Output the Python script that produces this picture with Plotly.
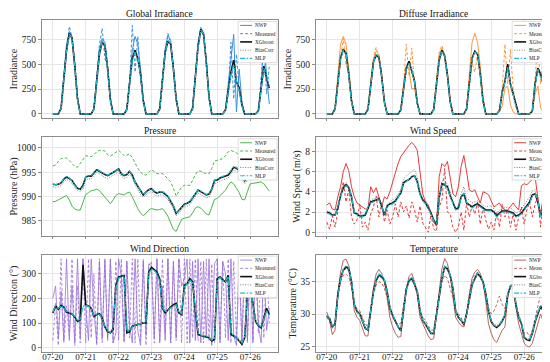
import plotly.graph_objects as go
import pandas as pd

# ---------------- time axis (2-hourly, 07-20 00:00 .. 07-26 14:00) ----------------
times = pd.date_range("2023-07-20 00:00", periods=80, freq="2h")
day_ticks = pd.date_range("2023-07-20", periods=7, freq="D")
tick_labels = ["07-20", "07-21", "07-22", "07-23", "07-24", "07-25", "07-26"]
series_names = ["NWP", "Measured", "XGboost", "BiasCorr", "MLP"]

# ---------------- Global irradiance ----------------
ghi_nwp = [0,0,0,60,380,700,830,780,520,170,0,0,
           0,0,0,55,360,660,760,720,480,160,0,0,
           0,0,0,50,340,640,780,700,460,150,0,0,
           0,0,0,55,360,660,790,740,480,160,0,0,
           0,0,0,60,380,720,860,820,540,180,0,0,
           0,0,0,50,300,520,800,20,450,120,0,0,
           0,0,0,40,260,800,380,100]
ghi_meas = [0,0,0,50,360,620,880,770,490,150,0,0,
            0,0,0,50,340,700,860,560,470,150,0,0,
            0,0,0,40,300,890,420,780,350,130,0,0,
            0,0,0,50,340,640,810,700,460,150,0,0,
            0,0,0,55,370,700,870,800,520,170,0,0,
            0,0,0,40,200,720,150,600,250,100,0,0,
            0,0,0,30,350,700,200,480]
ghi_xgb = [0,0,0,55,350,640,810,760,480,150,0,0,
           0,0,0,50,330,600,720,690,450,140,0,0,
           0,0,0,45,300,560,640,560,400,130,0,0,
           0,0,0,50,340,620,730,700,450,145,0,0,
           0,0,0,55,360,680,850,800,520,165,0,0,
           0,0,0,40,230,420,540,320,260,90,0,0,
           0,0,0,30,260,480,360,260]
ghi_bc = [0,0,0,55,345,630,800,750,470,150,0,0,
          0,0,0,50,325,590,710,680,445,140,0,0,
          0,0,0,45,295,540,600,540,390,125,0,0,
          0,0,0,50,335,610,720,690,445,140,0,0,
          0,0,0,55,355,670,840,790,515,160,0,0,
          0,0,0,40,220,380,480,300,240,85,0,0,
          0,0,0,30,240,440,330,240]
ghi_mlp = [0,0,0,50,340,630,800,770,470,140,0,0,
           0,0,0,45,320,600,740,700,440,135,0,0,
           0,0,0,40,290,550,620,580,390,120,0,0,
           0,0,0,45,330,620,740,710,445,140,0,0,
           0,0,0,50,350,680,840,810,510,160,0,0,
           0,0,0,35,210,400,500,330,240,80,0,0,
           0,0,0,25,250,460,380,270]

# ---------------- Diffuse irradiance ----------------
dhi_nwp = [0,0,0,60,400,700,780,700,450,150,0,0,
           0,0,0,50,330,550,630,600,400,130,0,0,
           0,0,0,45,300,480,440,250,260,100,0,0,
           0,0,0,50,360,600,660,600,420,140,0,0,
           0,0,0,60,420,720,810,720,480,160,0,0,
           0,0,0,20,80,260,280,90,20,0,0,0,
           0,0,0,30,200,280,60,20]
dhi_meas = [0,0,0,50,340,560,760,490,420,140,0,0,
            0,0,0,45,320,570,670,560,380,120,0,0,
            0,0,0,40,300,700,380,660,300,110,0,0,
            0,0,0,45,330,620,690,580,400,130,0,0,
            0,0,0,50,340,520,420,600,380,130,0,0,
            0,0,0,40,260,700,300,650,250,80,0,0,
            0,0,0,30,400,700,300,600]
dhi_xgb = [0,0,0,50,320,560,650,610,400,130,0,0,
           0,0,0,45,310,520,590,570,380,120,0,0,
           0,0,0,40,280,460,530,440,330,110,0,0,
           0,0,0,45,320,540,640,580,390,125,0,0,
           0,0,0,50,330,560,630,600,400,130,0,0,
           0,0,0,35,220,330,500,300,200,80,0,0,
           0,0,0,30,300,460,400,300]
dhi_bc = [0,0,0,50,315,550,640,600,395,125,0,0,
          0,0,0,45,305,515,580,560,375,120,0,0,
          0,0,0,40,275,450,500,420,320,105,0,0,
          0,0,0,45,315,535,630,570,385,120,0,0,
          0,0,0,50,325,555,620,590,395,125,0,0,
          0,0,0,35,210,310,460,280,190,75,0,0,
          0,0,0,30,280,430,370,280]
dhi_mlp = [0,0,0,45,310,560,640,620,390,120,0,0,
           0,0,0,40,300,520,600,580,370,115,0,0,
           0,0,0,35,270,460,510,450,320,100,0,0,
           0,0,0,40,310,540,630,590,380,120,0,0,
           0,0,0,45,320,560,620,610,390,125,0,0,
           0,0,0,30,210,320,470,310,190,70,0,0,
           0,0,0,25,290,450,390,290]

# ---------------- Pressure ----------------
p_nwp = [988.9,989.0,989.3,989.6,989.9,990.2,989.3,988.0,987.4,987.2,987.2,988.8,
         990.4,990.8,991.2,991.3,991.5,991.2,990.5,989.9,989.0,988.5,989.3,990.2,
         990.6,990.4,990.3,990.7,990.9,989.9,988.6,987.5,986.6,986.0,986.5,987.2,
         987.5,987.4,987.2,987.3,987.5,986.8,985.9,984.5,983.2,982.8,984.2,985.3,
         985.5,985.6,985.8,986.6,987.6,987.9,987.6,987.0,986.4,986.2,988.0,989.4,
         989.6,990.1,990.6,991.3,992.3,993.0,992.6,991.8,990.8,989.4,989.3,991.0,
         992.6,992.7,992.8,992.9,993.0,992.6,991.8,991.1]
p_meas = [996.3,996.5,997.2,997.8,997.9,997.9,997.4,996.8,996.2,996.0,996.8,997.6,
          998.4,998.3,998.2,998.6,999.2,999.5,999.5,999.4,998.6,998.3,998.7,999.1,
          999.5,999.0,998.4,998.5,998.8,998.0,996.8,995.8,995.0,994.5,994.4,995.0,
          995.5,995.1,994.7,994.7,994.7,994.2,993.6,993.0,991.6,990.1,991.0,992.0,
          992.3,992.3,992.3,993.3,994.5,995.3,995.2,994.9,994.7,994.7,995.8,997.3,
          997.5,997.7,997.8,998.4,999.2,999.5,999.3,999.0,998.5,997.2,997.0,997.5,
          998.0,998.3,998.5,998.2,997.8,997.5,997.2,997.0]
p_xgb = [992.5,992.4,992.5,992.8,993.6,994.0,993.7,993.3,992.4,991.7,991.5,992.3,
         994.0,994.2,994.2,994.9,995.5,995.2,994.8,994.5,994.3,994.6,995.0,995.3,
         995.7,994.7,994.3,994.5,995.2,994.4,993.0,992.0,991.0,990.3,990.9,991.4,
         991.6,991.0,990.7,990.9,990.9,990.5,990.0,989.0,988.0,986.5,987.1,987.9,
         988.4,988.6,988.9,989.7,990.6,991.3,991.0,990.6,990.3,990.5,991.5,993.3,
         993.4,993.8,994.0,994.1,994.4,995.2,996.0,995.8,995.4,994.3,993.2,993.8,
         994.5,995.0,995.4,995.8,996.0,995.8,995.5,995.3]
p_bc = [992.0,991.9,992.0,992.2,993.0,993.5,993.2,992.7,991.8,991.2,991.0,991.5,
        993.4,993.6,993.6,994.3,994.9,994.7,994.2,993.9,993.7,994.0,994.4,994.7,
        995.1,994.2,993.7,993.9,994.6,993.8,992.4,991.4,990.4,989.8,990.3,990.8,
        991.0,990.4,990.1,990.3,990.3,989.9,989.4,988.4,987.4,986.0,986.5,987.3,
        987.8,988.0,988.3,989.1,990.0,990.7,990.4,990.0,989.7,989.9,990.9,992.7,
        992.8,993.2,993.4,993.5,993.8,994.6,995.4,995.2,994.8,993.7,992.6,993.2,
        993.9,994.4,994.8,995.2,995.4,995.2,994.9,994.7]
p_mlp = [992.6,992.4,992.5,992.8,993.7,994.1,993.8,993.2,992.3,991.6,991.4,992.0,
         994.1,994.2,994.3,995.0,995.6,995.3,994.9,994.5,994.4,994.7,995.0,995.3,
         995.6,994.8,994.4,994.6,995.2,994.5,993.0,992.1,991.1,990.4,990.8,991.3,
         991.5,991.1,990.8,990.9,991.0,990.6,990.1,989.1,988.1,986.6,987.0,987.8,
         988.3,988.6,989.0,989.8,990.7,991.4,991.1,990.7,990.4,990.6,991.6,993.4,
         993.5,993.9,994.1,994.3,994.6,995.4,996.2,996.0,995.5,994.4,993.3,993.9,
         994.6,995.1,995.5,995.9,996.1,995.9,995.6,995.4]

# ---------------- Wind speed ----------------
ws_nwp = [2.7,2.9,2.3,2.2,3.5,4.5,6.0,6.8,6.1,4.5,3.5,2.9,
          2.7,2.5,2.3,2.3,4.5,3.9,4.4,3.5,2.5,3.5,3.3,4.0,
          5.0,6.0,6.8,7.5,7.9,8.3,8.6,8.9,8.6,8.1,5.9,3.8,
          3.0,2.7,2.0,1.0,0.6,5.5,6.8,6.5,7.0,5.5,3.8,3.5,
          4.5,6.5,7.6,6.0,4.2,4.0,4.2,3.5,2.9,4.0,3.9,3.7,
          3.0,2.5,2.7,2.9,2.4,2.2,2.2,2.5,2.9,2.5,2.2,4.6,
          4.8,4.7,5.0,5.3,5.5,3.4,1.8,3.5]
ws_meas = [1.0,0.3,1.6,0.5,2.0,3.5,5.0,3.0,4.2,1.5,0.8,1.2,
           2.8,0.5,1.0,0.2,1.8,2.5,3.6,1.5,2.8,1.0,2.2,0.8,
           1.5,2.8,1.5,3.0,2.0,2.6,1.4,3.0,2.2,1.0,2.6,0.9,
           0.4,0.0,1.8,0.3,0.1,2.5,3.2,6.3,2.0,1.8,0.5,0.0,
           0.5,2.0,0.2,2.9,1.5,2.6,1.8,3.0,0.8,2.5,1.2,0.3,
           1.0,0.2,2.0,0.5,2.8,1.5,2.2,0.5,1.8,0.2,1.5,2.5,
           0.8,2.2,3.0,1.5,2.8,3.5,0.5,3.7]
ws_xgb = [2.0,1.9,1.7,1.7,2.4,3.6,4.4,4.7,4.4,3.5,1.9,1.8,
          1.6,1.6,1.7,2.4,3.0,3.1,3.2,3.3,2.6,1.7,2.6,2.8,
          2.9,3.1,3.5,3.9,4.9,5.1,5.2,5.5,5.6,5.0,3.8,3.2,
          2.9,2.4,1.9,1.2,0.8,3.4,4.8,4.7,4.5,3.6,2.9,2.3,
          2.4,3.5,3.8,2.9,2.7,2.5,2.7,2.8,2.6,2.4,2.2,2.2,
          2.2,2.0,1.6,1.9,2.1,2.1,2.1,2.0,1.9,1.6,1.7,1.9,
          2.3,2.6,3.0,3.7,3.8,3.0,1.6,2.5]
ws_bc = [2.1,2.0,1.8,1.8,2.6,3.8,4.6,4.9,4.6,3.7,2.0,1.9,
         1.7,1.7,1.8,2.6,3.2,3.3,3.4,3.5,2.8,1.8,2.8,3.0,
         3.2,3.4,3.8,4.3,5.3,5.6,5.8,6.0,6.2,5.5,4.1,3.4,
         3.1,2.6,2.0,1.3,0.9,3.6,5.1,5.0,4.8,3.9,3.1,2.5,
         2.6,3.8,4.5,3.4,3.1,2.9,3.0,3.1,2.9,2.7,2.5,2.6,
         2.6,2.3,1.9,2.2,2.4,2.4,2.5,2.4,2.2,1.9,2.0,2.3,
         2.7,3.0,3.5,4.1,4.2,3.3,1.8,2.7]
ws_mlp = [1.9,1.8,1.6,1.7,2.3,3.5,4.3,4.6,4.5,3.6,2.0,1.7,
          1.5,1.5,1.8,2.5,2.9,3.0,3.3,3.2,2.5,1.8,2.5,2.7,
          2.8,3.0,3.4,4.0,4.8,5.0,5.3,5.5,5.6,4.9,3.7,3.1,
          2.8,2.3,1.8,1.1,0.9,3.3,4.7,4.8,4.4,3.5,2.8,2.2,
          2.3,3.4,3.9,3.0,2.6,2.4,2.6,2.7,2.5,2.3,2.1,2.1,
          2.1,1.9,1.5,1.8,2.0,2.0,2.0,1.9,1.8,1.5,1.6,1.8,
          2.2,2.5,2.9,3.6,3.8,3.1,1.5,2.4]

# ---------------- Wind direction ----------------
wd_nwp = [200,250,40,230,30,360,30,250,20,360,40,360,
          170,30,360,150,20,350,40,360,30,360,20,60,
          360,290,30,350,90,20,360,70,10,350,50,340,
          330,40,360,20,250,30,360,20,350,40,360,250,
          280,360,20,350,30,360,20,350,40,360,10,340,
          360,20,350,300,30,360,50,10,360,20,360,30,
          350,20,360,90,20,340,70,160]
wd_meas = [30,180,10,360,20,170,50,360,10,250,20,360,
           20,360,40,300,10,360,20,350,40,360,20,350,
           30,360,20,350,40,360,20,360,30,360,10,330,
           350,20,360,30,360,60,360,20,350,30,360,20,
           360,20,360,40,360,30,350,20,360,30,340,20,
           360,30,350,40,360,20,350,30,360,10,350,20,
           360,30,350,60,360,40,340,100]
wd_xgb = [141,170,156,172,165,145,140,137,125,107,114,336,
          174,170,160,127,135,138,121,85,65,61,75,253,
          287,290,293,61,65,88,92,94,99,101,101,307,
          326,315,307,280,160,141,155,165,175,180,141,134,
          253,260,280,267,147,54,50,48,44,41,28,35,
          280,287,275,267,293,54,48,41,28,15,41,214,
          253,180,107,90,81,121,160,134]
wd_bc = [148,168,158,168,160,150,144,140,130,112,118,165,
         170,166,156,132,138,135,120,90,70,65,84,240,
         278,285,288,75,72,88,92,96,100,102,106,295,
         318,310,298,268,168,148,152,160,168,172,148,140,
         240,255,272,260,152,62,55,52,48,45,36,40,
         270,280,270,268,285,64,54,47,35,24,48,200,
         240,178,112,95,88,120,148,132]
wd_mlp = [145,172,160,170,163,148,142,138,128,110,116,168,
          172,168,158,130,136,136,118,88,68,62,80,245,
          282,288,290,70,68,85,90,95,98,100,104,300,
          320,312,300,270,165,145,150,162,170,175,145,138,
          245,258,275,262,150,58,52,50,46,42,32,38,
          275,285,272,270,288,60,50,44,32,20,45,205,
          245,175,110,92,85,118,150,130]

# ---------------- Temperature ----------------
t_nwp = [30.3,29.0,26.8,27.5,33.0,36.5,38.3,38.5,37.5,35.0,30.5,29.5,
         29.0,27.8,26.6,26.6,30.0,34.0,36.2,36.9,36.3,35.0,32.5,29.5,
         28.0,27.0,26.4,26.5,30.5,34.0,35.8,36.3,35.0,33.0,29.5,28.5,
         27.5,26.6,26.0,26.2,30.0,34.0,37.0,38.6,37.8,36.0,33.0,29.5,
         28.8,28.2,28.0,29.8,33.0,35.5,36.5,36.9,36.3,35.0,32.0,28.5,
         27.0,26.0,25.6,26.5,27.5,28.0,32.5,34.5,34.2,31.0,28.5,27.0,
         25.5,25.0,24.9,25.5,27.0,28.5,30.0,28.8]
t_meas = [29.5,28.8,27.8,28.5,32.5,35.0,36.0,36.2,35.8,34.0,31.5,30.8,
          30.5,29.5,28.5,28.0,30.5,33.0,34.5,35.0,34.8,34.0,32.5,30.5,
          29.5,28.8,28.5,28.5,31.5,34.0,35.0,35.5,34.5,33.0,30.0,29.5,
          29.0,28.2,27.5,27.5,30.5,33.0,35.0,36.0,35.5,34.0,32.5,30.5,
          30.0,29.5,28.0,30.5,33.0,35.5,36.0,36.5,35.5,35.0,33.5,31.0,
          30.0,30.5,31.5,32.8,31.5,30.8,33.0,34.0,34.0,31.5,30.0,28.5,
          27.0,27.2,26.5,27.5,29.5,31.5,33.0,32.0]
t_xgb = [29.7,29.3,28.0,28.5,33.0,35.5,36.8,37.3,37.0,35.0,31.5,30.4,
         30.0,28.8,27.8,27.5,30.5,33.5,35.2,36.0,35.8,35.2,33.5,31.0,
         29.8,28.8,28.0,27.4,31.0,33.8,35.2,35.5,34.6,33.5,30.5,29.0,
         28.4,27.8,27.0,27.0,29.8,33.0,35.5,37.3,37.0,36.0,34.0,30.5,
         29.5,29.0,28.4,30.0,32.5,34.5,35.5,36.3,35.8,35.0,33.0,30.4,
         28.8,28.2,27.9,28.3,28.9,29.8,33.0,34.3,34.5,31.4,29.5,28.5,
         26.4,26.0,25.9,27.0,28.8,30.2,31.2,30.5]
t_bc = [29.5,29.1,27.9,28.6,32.8,35.3,36.6,37.0,36.7,34.8,31.3,30.2,
        29.8,28.7,27.7,27.5,30.4,33.3,35.0,35.8,35.6,35.0,33.3,30.8,
        29.6,28.7,27.9,27.4,30.8,33.6,35.0,35.3,34.4,33.3,30.3,28.9,
        28.3,27.7,27.0,27.0,29.6,32.8,35.3,37.0,36.8,35.8,33.8,30.4,
        29.4,28.9,28.4,29.9,32.3,34.3,35.3,36.1,35.6,34.8,32.8,30.3,
        28.9,28.4,28.2,28.6,29.2,29.9,32.8,34.1,34.3,31.3,29.5,28.6,
        26.6,26.2,26.1,27.1,28.8,30.1,31.0,30.4]
t_mlp = [29.8,29.4,28.2,28.4,32.6,35.4,36.9,37.5,37.2,35.2,31.6,30.3,
         29.9,28.9,27.9,27.6,30.3,33.4,35.3,36.2,36.0,35.3,33.5,31.1,
         29.9,28.9,28.1,27.5,30.8,33.7,35.3,35.7,34.8,33.6,30.6,29.1,
         28.5,27.9,27.1,27.1,29.6,32.9,35.6,37.4,37.2,36.1,34.1,30.6,
         29.6,29.1,28.5,30.0,32.4,34.5,35.6,36.4,36.0,35.1,33.1,30.5,
         28.9,28.3,28.0,28.4,29.0,29.9,33.1,34.4,34.6,31.6,29.6,28.6,
         26.5,26.1,26.0,27.1,28.9,30.3,31.3,30.6]

# ---------------- panel definitions ----------------
panels = [
    dict(title="Global Irradiance", ytitle="Irradiance", color="#3a8fde", lw=1.0,
         data=[ghi_nwp, ghi_meas, ghi_xgb, ghi_bc, ghi_mlp],
         yrange=[-45, 945], ytick=[0, 250, 500, 750]),
    dict(title="Diffuse Irradiance", ytitle="Irradiance", color="#fb9a3e", lw=1.0,
         data=[dhi_nwp, dhi_meas, dhi_xgb, dhi_bc, dhi_mlp],
         yrange=[-45, 945], ytick=[0, 250, 500, 750]),
    dict(title="Pressure", ytitle="Pressure (hPa)", color="#45b845", lw=1.0,
         data=[p_nwp, p_meas, p_xgb, p_bc, p_mlp],
         yrange=[981.9, 1002.2], ytick=[985, 990, 995, 1000]),
    dict(title="Wind Speed", ytitle="Wind Speed (m/s)", color="#e43a3a", lw=1.0,
         data=[ws_nwp, ws_meas, ws_xgb, ws_bc, ws_mlp],
         yrange=[-0.35, 9.4], ytick=[0, 2, 4, 6, 8]),
    dict(title="Wind Direction", ytitle="Wind Direction (°)", color="#9a6fd6", lw=0.8,
         data=[wd_nwp, wd_meas, wd_xgb, wd_bc, wd_mlp],
         yrange=[-17, 377], ytick=[0, 100, 200, 300]),
    dict(title="Temperature", ytitle="Temperature (°C)", color="#b5665a", lw=1.0,
         data=[t_nwp, t_meas, t_xgb, t_bc, t_mlp],
         yrange=[24.1, 39.2], ytick=[25, 30, 35]),
]

W, H = 550, 362
col_px = [(32, 269), (307, 544)]
row_px = [(12, 111), (130, 229), (248, 346)]
FONT = "Liberation Serif, Times New Roman, serif"

def styles(color, lw):
    return [
        dict(color=color, width=lw, dash="solid"),
        dict(color=color, width=lw, dash="3px,2px"),
        dict(color="#111111", width=1.6, dash="solid"),
        dict(color="#7f7f7f", width=1.0, dash="1px,1.5px"),
        dict(color="#17becf", width=1.2, dash="5px,1.5px,1.5px,1.5px"),
    ]

fig = go.Figure()
shapes, annotations = [], []
x_range = ["2023-07-19 16:00", "2023-07-26 20:21"]

for k, pnl in enumerate(panels, start=1):
    r, c = (k - 1) // 2, (k - 1) % 2
    sfx = "" if k == 1 else str(k)
    x0p, x1p = col_px[c]
    y0p, y1p = row_px[r]
    pw, ph = x1p - x0p, y1p - y0p
    st = styles(pnl["color"], pnl["lw"])
    for name, vals, s in zip(series_names, pnl["data"], st):
        fig.add_trace(go.Scatter(x=times, y=vals, mode="lines", name=name,
                                 line=s, showlegend=False,
                                 xaxis="x" + sfx, yaxis="y" + sfx))
    axis_common = dict(showline=True, mirror=True, linecolor="#8c8c8c", linewidth=0.8,
                       ticks="outside", tickcolor="#8c8c8c", tickwidth=0.8,
                       showgrid=True, gridcolor="#e6e6e6", gridwidth=0.6, zeroline=False)
    fig.layout["xaxis" + sfx] = dict(
        axis_common, domain=[x0p / W, x1p / W], anchor="y" + sfx, type="date",
        range=x_range, tickvals=list(day_ticks), ticktext=tick_labels, ticklen=2,
        ticklabelstandoff=-6,
        tickfont=dict(family=FONT, size=9, color="#222"),
        showticklabels=(r == 2))
    fig.layout["yaxis" + sfx] = dict(
        axis_common, domain=[1 - y1p / H, 1 - y0p / H], anchor="x" + sfx,
        range=pnl["yrange"], tickvals=pnl["ytick"], ticklen=3,
        tickfont=dict(family=FONT, size=9.5, color="#222"),
        title=dict(text=pnl["ytitle"], font=dict(family=FONT, size=10, color="#222"),
                   standoff=2))
    xd, yd = "x" + sfx + " domain", "y" + sfx + " domain"
    # panel title
    annotations.append(dict(text=pnl["title"], xref=xd, yref=yd, x=0.5, y=1,
                            xanchor="center", yanchor="bottom", yshift=-1,
                            showarrow=False, font=dict(family=FONT, size=9.5, color="#111")))
    # legend box (drawn in the panel's own domain coordinates)
    bx0, bx1 = 1 - 40 / pw, 1 - 1 / pw
    by1, by0 = 1 - 1.5 / ph, 1 - 43 / ph
    shapes.append(dict(type="rect", xref=xd, yref=yd, x0=bx0, x1=bx1, y0=by0, y1=by1,
                       fillcolor="white", line=dict(color="#cfcfcf", width=0.7),
                       layer="above"))
    for j, (name, s) in enumerate(zip(series_names, st)):
        yy = 1 - (5.5 + 8.3 * j) / ph
        shapes.append(dict(type="line", xref=xd, yref=yd,
                           x0=bx0 + 2 / pw, x1=bx0 + 14 / pw, y0=yy, y1=yy,
                           line=dict(color=s["color"], width=s["width"], dash=s["dash"]),
                           layer="above"))
        annotations.append(dict(text=name, xref=xd, yref=yd, x=bx0 + 15.5 / pw, y=yy,
                                xanchor="left", yanchor="middle", showarrow=False,
                                borderpad=0,
                                font=dict(family=FONT, size=5.2, color="#222")))

fig.update_layout(width=W, height=H, margin=dict(l=0, r=0, t=0, b=0),
                  paper_bgcolor="white", plot_bgcolor="white",
                  showlegend=False, shapes=shapes, annotations=annotations)
fig.write_html("out.html")
